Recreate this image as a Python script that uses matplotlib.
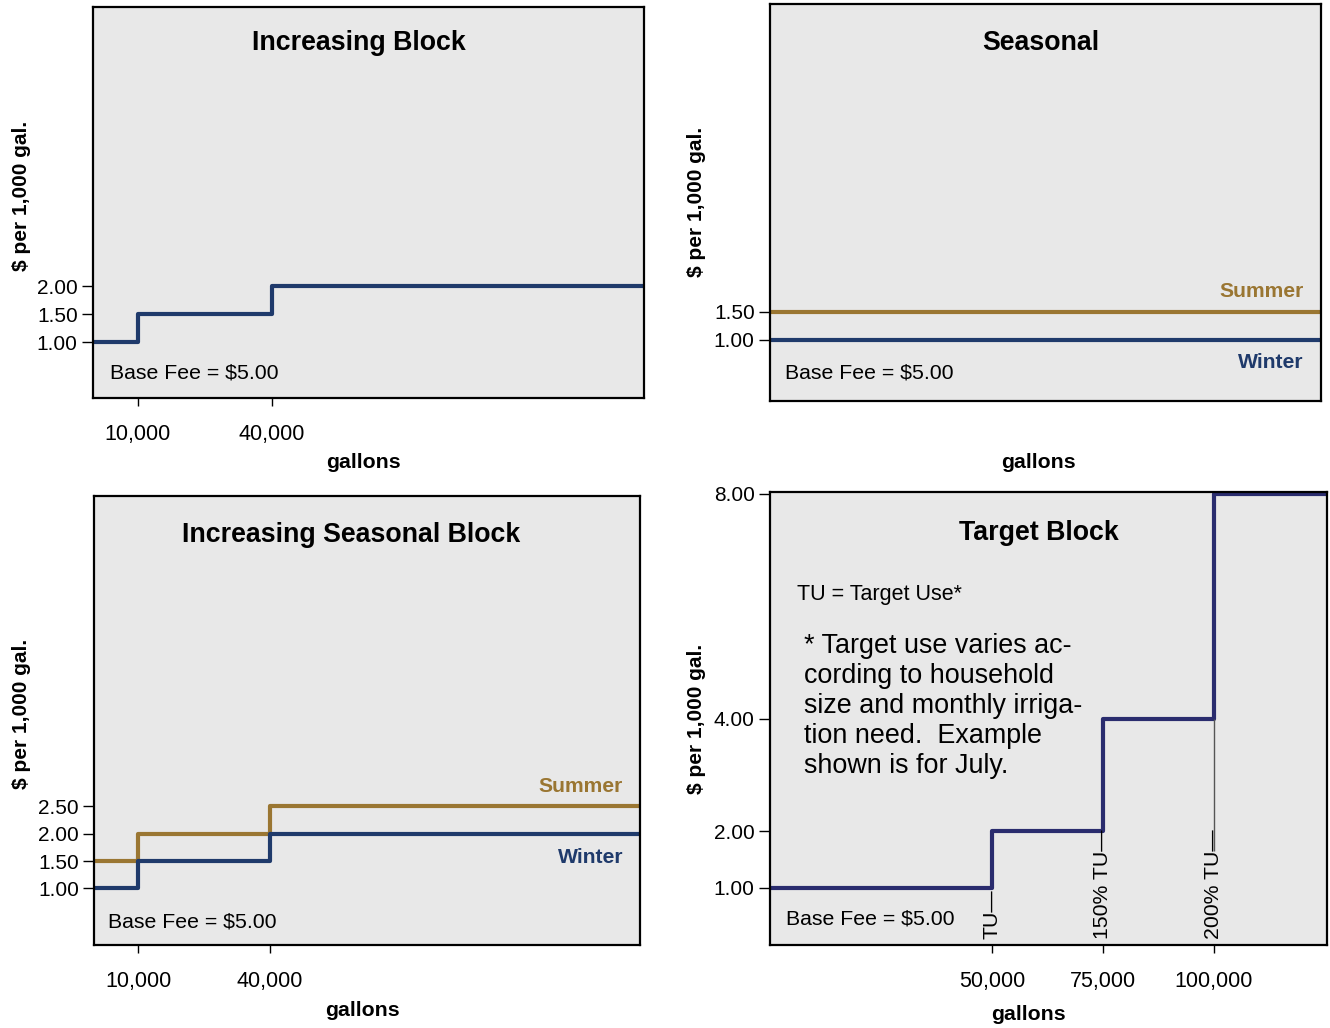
import numpy as np
import matplotlib
matplotlib.use("Agg")
import matplotlib.pyplot as plt

plt.rcParams['font.family'] = ['Liberation Sans', 'DejaVu Sans']

# data
block_x = [0, 10000, 40000, 125000]
block_rates = [1.00, 1.50, 2.00, 2.00]

season_x = [0, 125000]
summer_flat = [1.50, 1.50]
winter_flat = [1.00, 1.00]

sblock_x = [0, 10000, 40000, 125000]
summer_rates = [1.50, 2.00, 2.50, 2.50]
winter_rates = [1.00, 1.50, 2.00, 2.00]

target_x = [0, 50000, 75000, 100000, 126000]
target_rates = [1.00, 2.00, 4.00, 8.00, 8.00]
target_labels = ['TU\u2014', '150% TU\u2014', '200% TU\u2014']

navy = '#1f3a6b'
gold = '#9a7632'
purple_navy = '#2a2c6e'
bg = '#e8e8e8'

fig = plt.figure(figsize=(13.3, 10.28), dpi=100)

def setup(ax, title, tx, ty, xlim, ylim, yticks, xticks):
    ax.set_facecolor(bg)
    ax.set_xlim(*xlim)
    ax.set_ylim(*ylim)
    ax.set_yticks(yticks)
    ax.set_yticklabels(['%.2f' % v for v in yticks])
    ax.set_xticks(xticks)
    ax.set_xticklabels(['{:,}'.format(v) for v in xticks])
    for s in ax.spines.values():
        s.set_linewidth(1.6)
        s.set_color('black')
    ax.tick_params(axis='y', length=8, width=1, labelsize=15, pad=3)
    ax.tick_params(axis='x', length=6, width=1, labelsize=15.5, pad=13)
    ax.text(tx, ty, title, transform=ax.transAxes, ha='center', va='center',
            fontsize=19.3, fontweight='bold')

def base_fee(ax, x, y):
    ax.text(x, y, 'Base Fee = $5.00', transform=ax.transAxes, ha='left',
            va='center', fontsize=15.3)

# top left: Increasing Block
ax1 = fig.add_axes([0.0699, 0.6128, 0.4143, 0.3804])
setup(ax1, 'Increasing Block', 0.483, 0.908, (0, 123300), (0, 7),
      [1.0, 1.5, 2.0], [10000, 40000])
ax1.step(block_x, block_rates, where='post', color=navy, lw=3)
base_fee(ax1, 0.031, 0.064)

# top right: Seasonal
ax2 = fig.add_axes([0.5789, 0.6099, 0.4143, 0.3862])
setup(ax2, 'Seasonal', 0.492, 0.902, (0, 123300), (-0.09, 7),
      [1.0, 1.5], [])
ax2.plot(season_x, summer_flat, color=gold, lw=3)
ax2.plot(season_x, winter_flat, color=navy, lw=3)
base_fee(ax2, 0.027, 0.0705)
ax2.text(0.969, 0.277, 'Summer', transform=ax2.transAxes, ha='right',
         va='center', fontsize=15.2, fontweight='bold', color=gold)
ax2.text(0.969, 0.098, 'Winter', transform=ax2.transAxes, ha='right',
         va='center', fontsize=15.2, fontweight='bold', color=navy)

# bottom left: Increasing Seasonal Block
ax3 = fig.add_axes([0.0707, 0.0807, 0.4105, 0.4368])
setup(ax3, 'Increasing Seasonal Block', 0.47, 0.914, (0, 124000), (-0.03, 8.15),
      [1.0, 1.5, 2.0, 2.5], [10000, 40000])
ax3.step(sblock_x, summer_rates, where='post', color=gold, lw=3)
ax3.step(sblock_x, winter_rates, where='post', color=navy, lw=3)
base_fee(ax3, 0.026, 0.051)
ax3.text(0.969, 0.354, 'Summer', transform=ax3.transAxes, ha='right',
         va='center', fontsize=15.2, fontweight='bold', color=gold)
ax3.text(0.969, 0.196, 'Winter', transform=ax3.transAxes, ha='right',
         va='center', fontsize=15.2, fontweight='bold', color=navy)

# bottom right: Target Block
ax4 = fig.add_axes([0.5789, 0.0807, 0.4188, 0.4407])
setup(ax4, 'Target Block', 0.482, 0.91, (0, 125450), (-0.02, 8.03),
      [1.0, 2.0, 4.0, 8.0], [50000, 75000, 100000])
ax4.step(target_x, target_rates, where='post', color=purple_navy, lw=3)
base_fee(ax4, 0.029, 0.057)
ax4.text(0.048, 0.773, 'TU = Target Use*', transform=ax4.transAxes,
         ha='left', va='center', fontsize=15.5)
ax4.text(0.062, 0.688,
         '* Target use varies ac-\ncording to household\nsize and monthly irriga-\ntion need.  Example\nshown is for July.',
         transform=ax4.transAxes, ha='left', va='top', fontsize=19.4,
         linespacing=1.2)
for xv, lab in zip(target_x[1:4], target_labels):
    ax4.text(xv, 0.08, lab, rotation=90, ha='center', va='bottom',
             fontsize=15.3)
ax4.vlines(target_x[3], 1.65, target_rates[2], color='#555555', lw=1)

# axis titles
for x, y in [(22, 196), (22, 714), (696, 202), (696, 719)]:
    fig.text(x / 1330, 1 - y / 1028, '$ per 1,000 gal.', rotation=90,
             ha='center', va='center', fontsize=15, fontweight='bold')
for x, y in [(363, 462), (1038, 462), (362, 1011), (1028, 1014)]:
    fig.text(x / 1330, 1 - y / 1028, 'gallons', ha='center', va='center',
             fontsize=15.3, fontweight='bold')

plt.savefig('out.png', dpi=100)
